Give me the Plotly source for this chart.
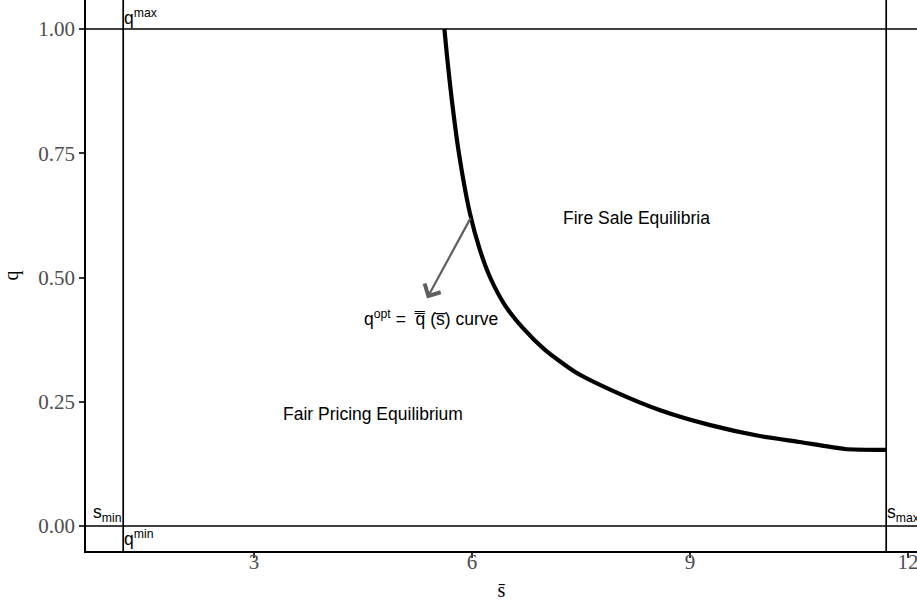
import plotly.graph_objects as go

# ---- data ----
s_curve = [5.62, 5.66, 5.72, 5.82, 5.97, 6.11, 6.25, 6.45, 6.69, 7.00, 7.42, 7.97,
           8.59, 9.28, 9.96, 10.51, 11.13, 11.70]
q_curve = [1.00, 0.94, 0.86, 0.75, 0.63, 0.555, 0.50, 0.445, 0.40, 0.355, 0.31, 0.27,
           0.233, 0.203, 0.181, 0.169, 0.155, 0.153]
s_min, s_max = 1.2, 11.7
q_min, q_max = 0.0, 1.0
x_ticks = [3, 6, 9, 12]
y_ticks = [0.0, 0.25, 0.5, 0.75, 1.0]
y_tick_labels = ["0.00", "0.25", "0.50", "0.75", "1.00"]
arrow_tail = (5.99, 0.622)
arrow_head = (5.38, 0.458)
label_fire = (8.26, 0.620)
label_fair = (4.64, 0.225)
label_curve = (5.44, 0.418)

W, H = 917, 607
ML, MB = 86, 56
x_range = [0.688, 12.124]
y_range = [-0.0503, 1.0584]

SANS = "Liberation Sans, Arial, sans-serif"
SERIF = "Liberation Serif, Times New Roman, serif"

fig = go.Figure()
fig.add_trace(go.Scatter(x=s_curve, y=q_curve, mode="lines",
                         line=dict(color="black", width=4.2, shape="spline", smoothing=0.6),
                         hoverinfo="skip", showlegend=False))

# reference lines
for v in (s_min, s_max):
    fig.add_shape(type="line", xref="x", yref="y domain", x0=v, x1=v, y0=0, y1=1,
                  line=dict(color="black", width=1.7))
for h in (q_min, q_max):
    fig.add_shape(type="line", xref="x domain", yref="y", x0=0, x1=1, y0=h, y1=h,
                  line=dict(color="black", width=1.7))

fs = 17.5
ann = [
    dict(x=label_fire[0], y=label_fire[1], text="Fire Sale Equilibria"),
    dict(x=label_fair[0], y=label_fair[1], text="Fair Pricing Equilibrium"),
    dict(x=label_curve[0], y=label_curve[1], text="q<sup>opt</sup> =  q\u033f (s\u0305) curve"),
    dict(x=s_min, y=q_max, text="q<sup>max</sup>", xanchor="left", yanchor="bottom"),
    dict(x=s_min, y=q_min, text="q<sup>min</sup>", xanchor="left", yanchor="top"),
    dict(x=s_min, y=q_min, text="s<sub>min</sub>", xanchor="right", yanchor="bottom"),
    dict(x=s_max, y=q_min, text="s<sub>max</sub>", xanchor="left", yanchor="bottom"),
]
for a in ann:
    d = dict(showarrow=False, font=dict(family=SANS, size=fs, color="black"),
             xanchor="center", yanchor="middle", borderpad=0)
    d.update(a)
    fig.add_annotation(**d)

fig.add_annotation(x=arrow_head[0], y=arrow_head[1], ax=arrow_tail[0], ay=arrow_tail[1],
                   xref="x", yref="y", axref="x", ayref="y", text="",
                   showarrow=True, arrowhead=4, arrowsize=1.6, arrowwidth=2.2,
                   arrowcolor="#5f5f5f", standoff=0, startstandoff=0)

tickfont = dict(family=SERIF, size=21, color="#4d4d4d")
fig.update_layout(
    width=W, height=H,
    margin=dict(l=ML, r=0, t=0, b=MB, autoexpand=False),
    plot_bgcolor="white", paper_bgcolor="white",
    xaxis=dict(range=x_range, tickmode="array", tickvals=x_ticks,
               ticktext=[str(t) for t in x_ticks], ticklabeloverflow="allow",
               ticklabelstandoff=-14,
               showgrid=False, zeroline=False, showline=True, linecolor="black",
               linewidth=1.7, ticks="outside", ticklen=5, tickwidth=1.7, tickcolor="#333333",
               tickfont=tickfont,
               title=dict(text="s\u0304", font=dict(family=SERIF, size=20, color="black"),
                          standoff=10),
               automargin=False),
    yaxis=dict(range=y_range, tickmode="array", tickvals=y_ticks, ticktext=y_tick_labels,
               showgrid=False, zeroline=False, showline=True, linecolor="black",
               linewidth=1.7, ticks="outside", ticklen=5, tickwidth=1.7, tickcolor="#333333",
               tickfont=tickfont,
               title=dict(text="q", font=dict(family=SERIF, size=20, color="black"),
                          standoff=16),
               automargin=False),
)

fig.write_html("out.html")
